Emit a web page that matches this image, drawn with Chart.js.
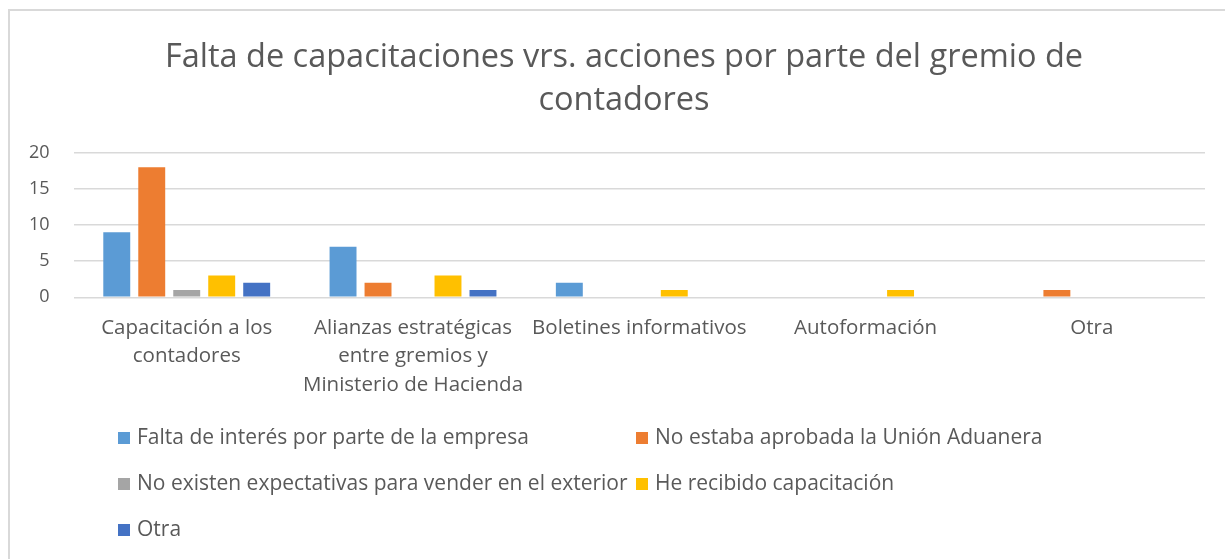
<!DOCTYPE html>
<html>
<head>
<meta charset="utf-8">
<script src="https://cdn.jsdelivr.net/npm/chart.js@4"></script>
<style>
  html, body { margin: 0; padding: 0; background: #fff; }
  #wrap { position: relative; width: 1225px; height: 559px; }
  #frame { position: absolute; left: 8px; top: 9px; width: 1240px; height: 560px;
           border-left: 2px solid #d9d9d9; border-top: 2px solid #d9d9d9; }
  canvas { position: absolute; left: 0; top: 0; }
</style>
</head>
<body>
<div id="wrap">
  <div id="frame"></div>
  <canvas id="chart" width="1225" height="559"></canvas>
</div>
<script>
let categories = [
    ['Capacitación a los', 'contadores'],
    ['Alianzas estratégicas', 'entre gremios y', 'Ministerio de Hacienda'],
    'Boletines informativos',
    'Autoformación',
    'Otra'
];
let faltaInteres = [9, 7, 2, 0, 0];
let noAprobada = [18, 2, 0, 0, 1];
let noExpectativas = [1, 0, 0, 0, 0];
let heRecibido = [3, 3, 1, 1, 0];
let otra = [2, 1, 0, 0, 0];
let yTicks = [0, 5, 10, 15, 20];

let fontName = '"Open Sans"';
let textColor = '#595959';

// legend drawn in a 2-column grid like the original
let gridLegend = {
    id: 'gridLegend',
    afterLayout(chart) {
        // title is centred on the frame, not on the padded area
        chart.titleBlock.left = 43;
    },
    afterDraw(chart) {
        let c = chart.ctx;
        let cols = [118, 636];
        c.save();
        c.font = '21px ' + fontName;
        c.textBaseline = 'middle';
        chart.data.datasets.forEach((ds, i) => {
            let x = cols[i % 2];
            let y = 438 + Math.floor(i / 2) * 46;
            c.fillStyle = ds.backgroundColor;
            c.fillRect(x, y - 6, 12, 12);
            c.fillStyle = textColor;
            c.fillText(ds.label, x + 19, y);
        });
        c.restore();
    }
};

let ctx = document.getElementById('chart');
let chart = new Chart(ctx, {
    type: 'bar',
    data: {
        labels: categories,
        datasets: [
            { label: 'Falta de interés por parte de la empresa', data: faltaInteres, backgroundColor: '#5B9BD5' },
            { label: 'No estaba aprobada la Unión Aduanera', data: noAprobada, backgroundColor: '#ED7D31' },
            { label: 'No existen expectativas para vender en el exterior', data: noExpectativas, backgroundColor: '#A5A5A5' },
            { label: 'He recibido capacitación', data: heRecibido, backgroundColor: '#FFC000' },
            { label: 'Otra', data: otra, backgroundColor: '#4472C4' }
        ]
    },
    options: {
        responsive: false,
        animation: false,
        datasets: {
            bar: { categoryPercentage: 0.773, barPercentage: 0.77 }
        },
        layout: { padding: { left: 5, right: 20, top: 36, bottom: 143 } },
        plugins: {
            legend: { display: false },
            tooltip: { enabled: false },
            title: {
                display: true,
                text: ['Falta de capacitaciones vrs. acciones por parte del gremio de', 'contadores'],
                color: textColor,
                font: { family: fontName, size: 32.5, weight: 'normal', lineHeight: 1.32 },
                padding: { top: 0, bottom: 31 }
            }
        },
        scales: {
            x: {
                grid: { display: false, drawTicks: false },
                border: { display: false },
                ticks: {
                    color: textColor,
                    font: { family: fontName, size: 20.5, lineHeight: 1.41 },
                    padding: 16,
                    maxRotation: 0,
                    autoSkip: false
                }
            },
            y: {
                min: 0,
                max: 20,
                afterBuildTicks(axis) { axis.ticks = yTicks.map(v => ({ value: v })); },
                grid: { color: '#d9d9d9', lineWidth: 1.5, drawTicks: false },
                border: { display: false },
                ticks: {
                    color: textColor,
                    font: { family: fontName, size: 18 },
                    padding: 24
                }
            }
        }
    },
    plugins: [gridLegend]
});
</script>
</body>
</html>
